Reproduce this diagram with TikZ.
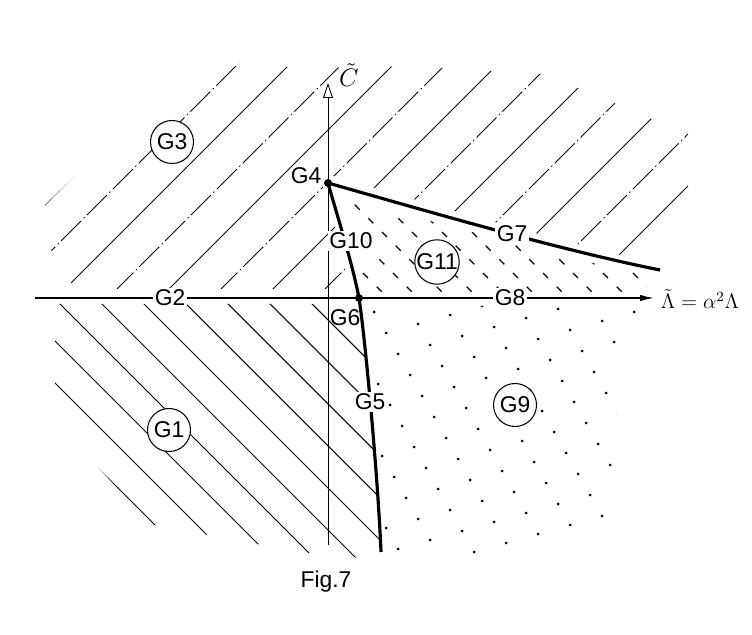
\documentclass[tikz,border=0pt]{standalone}
\usepackage{fontspec}
\setsansfont{Liberation Sans}
\usetikzlibrary{arrows.meta}
\newcommand{\glfont}{\sffamily\fontsize{13}{13}\selectfont}
\tikzset{
  haxis/.style={line width=1.1pt,-{Latex[length=3mm,width=1.3mm]}},
  vaxis/.style={line width=0.5pt,-{Triangle[open,length=3mm,width=2mm]}},
  bound/.style={line width=1.8pt},
  hatchsolid/.style={line width=0.5pt},
  hatchbroken/.style={line width=0.5pt,dash pattern=on 16pt off 2pt on 0.8pt off 2pt},
  gonedash/.style={line width=0.6pt},
  gelevendash/.style={line width=0.7pt,dash pattern=on 4pt off 7pt},
  glabel/.style={font=\glfont,inner sep=1pt},
  gcirc/.style={glabel,draw,circle,line width=0.6pt,minimum size=8.6mm,inner sep=0pt,fill=white},
}

\begin{document}
\begin{tikzpicture}[x=0.2mm,y=-0.2mm]
\useasboundingbox (0,0) rectangle (752,635);
% points of the diagram
\coordinate (g4pt) at (328,183);
\coordinate (g6pt) at (359,298);
\coordinate (g7end) at (660,270);
\coordinate (g5end) at (381,552);
\coordinate (vbot) at (328,545);
\coordinate (vtop) at (328,83);
\coordinate (hleft) at (35,298);
\coordinate (hright) at (655,298);
% G3 hatching
\begin{scope}
\clip (45,205) -- (195,60) -- (300,68) -- (410,66) -- (545,74) -- (690,135) -- (688,190) -- (652,262)
  .. controls (560,242) and (430,204) .. (330,175) -- (322,183) .. controls (331,215) and (346,262) .. (353,289)
  -- (75,289) -- (45,240) -- cycle;
\foreach \hc in {250,354,...,874} \draw[hatchsolid] ({\hc-40},40) -- ({\hc-600},600);
\foreach \hc in {302,406,...,874} \draw[hatchbroken] ({\hc-40},40) -- ({\hc-600},600);
\end{scope}
% G1 hatching
\begin{scope}
\clip (55,304) -- (359,304) .. controls (366,345) and (378,480) .. (381,560) -- (300,552) -- (150,524) -- (55,420) -- cycle;
\foreach \hc in {-370,-328,...,20} \draw[gonedash] ({\hc+300},300) -- ({\hc+570},570);
\end{scope}
% G11 dashes
\begin{scope}
\clip (334,196) .. controls (430,220) and (560,257) .. (650,276) -- (645,292) -- (366,292)
  .. controls (358,262) and (344,220) .. (334,196) -- cycle;
\foreach \hc in {60,90,...,400} \draw[gelevendash] ({\hc+150},150) -- ({\hc+320},320);
\end{scope}
% G9 dots
\begin{scope}
\clip (365,306) -- (640,306) -- (618,340) -- (615,545) -- (590,556) -- (385,556)
  .. controls (384,480) and (372,345) .. (365,306) -- cycle;
\foreach \i in {0,...,16} \foreach \j in {0,...,12} \fill ({330+32*\i-20*\j},{300-9*\i+30*\j}) circle (0.3mm);
\end{scope}
% axes
\draw[vaxis] (vbot) -- (vtop);
\draw[haxis] (hleft) -- (hright);
% boundary curves
\draw[bound] (g4pt) .. controls (430,212) and (560,250) .. (g7end);
\draw[bound] (g4pt) .. controls (337,215) and (352,262) .. (g6pt) .. controls (366,345) and (378,480) .. (g5end);
\fill (g4pt) circle (0.8mm);
\fill (g6pt) circle (0.8mm);
% labels
\node[gcirc] (g3) at (172,142) {G3};
\node[gcirc] (g1) at (169,430) {G1};
\node[gcirc] (g11) at (437,262) {G11};
\node[gcirc] (g9) at (515,405) {G9};
\node[glabel] (g4) at (306,176) {G4};
\node[glabel,fill=white] (g10) at (351,241) {G10};
\node[glabel] (g6) at (345,318) {G6};
\node[glabel,fill=white] (g5) at (370,402) {G5};
\node[glabel,fill=white] (g7) at (512,234) {G7};
\node[glabel,fill=white] (g2) at (170,298) {G2};
\node[glabel,fill=white] (g8) at (510,298) {G8};
\node[font=\fontsize{14}{14}\selectfont,inner sep=0pt] (cax) at (349,75) {$\tilde{C}$};
\node[font=\fontsize{12}{12}\selectfont,inner sep=0pt] (lax) at (700,299) {$\tilde{\Lambda}=\alpha^2\Lambda$};
\node[glabel] (fig) at (326,582) {Fig.7};
\end{tikzpicture}
\end{document}
